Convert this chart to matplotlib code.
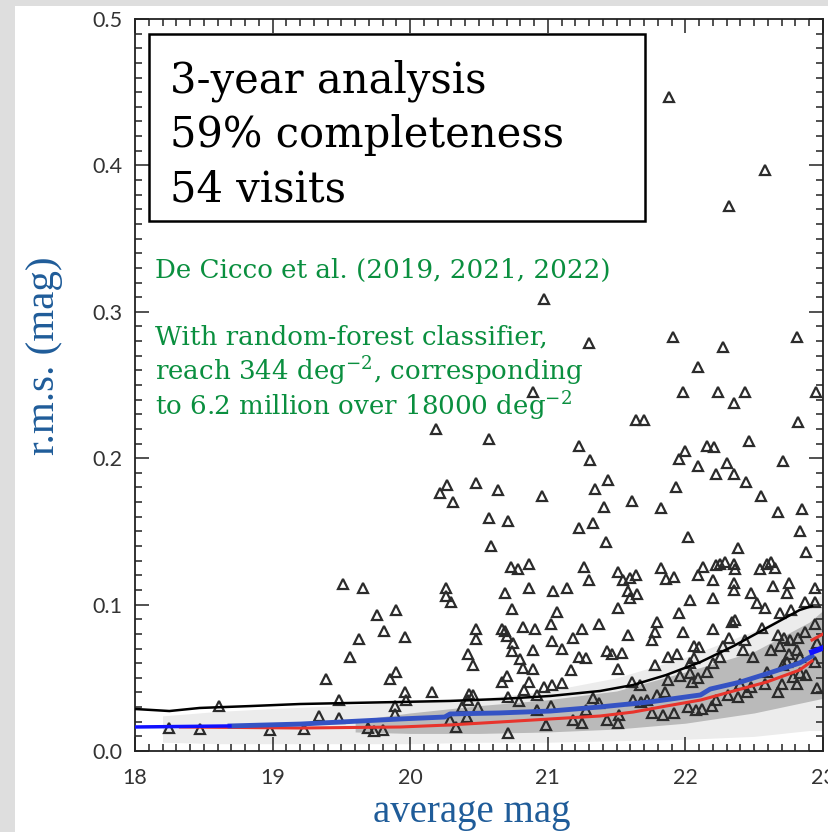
import matplotlib
matplotlib.use("Agg")
import matplotlib.pyplot as plt
from matplotlib.patches import Rectangle
from matplotlib.ticker import MultipleLocator, FormatStrFormatter

plt.rcParams["mathtext.fontset"] = "dejavuserif"

# Variable sources (open triangles): average mag and r.m.s.
tri_mag = [
    21.88, 22.58, 22.32, 20.97, 21.30, 21.91, 22.81, 22.27, 22.09, 21.98,
    22.24, 22.35, 22.43, 22.95, 21.64, 21.70, 22.82, 20.89, 20.19, 20.57,
    20.27, 20.22, 20.31, 20.48, 20.64, 20.96, 20.57, 20.71, 20.59, 20.73,
    20.78, 20.86, 20.86, 20.69, 20.74, 20.26, 20.26, 20.30, 19.51, 19.66,
    19.76, 19.90, 19.63, 19.81, 19.56, 19.39, 19.85, 19.90, 19.48, 19.34,
    19.48, 18.61, 18.25, 18.47, 18.98, 19.23, 19.69, 19.74, 19.80, 19.89,
    19.89, 19.96, 21.07, 21.37, 20.48, 20.48, 20.67, 20.69, 20.82, 20.91,
    21.02, 21.18, 21.25, 20.70, 20.75, 20.74, 20.89, 21.03, 21.10, 21.43,
    21.23, 21.28, 20.42, 20.46, 20.80, 20.82, 20.89, 21.17, 20.70, 20.67,
    20.86, 20.83, 20.97, 21.03, 21.10, 19.96, 20.16, 19.97, 20.43, 20.46,
    20.42, 20.71, 20.79, 20.92, 20.38, 20.49, 20.41, 20.29, 20.33, 20.71,
    20.99, 21.02, 20.92, 21.18, 21.25, 21.33, 21.37, 21.28, 21.43,
    21.26, 21.30, 21.51, 21.55, 21.60, 21.64, 21.82, 21.86, 21.92, 22.13,
    22.09, 22.22, 22.25, 22.29, 22.35, 22.36, 22.20, 22.54, 22.59, 22.62,
    22.65, 22.35, 22.35, 22.88, 22.75, 22.64, 22.87, 22.94, 22.94, 21.04,
    21.14, 21.58, 21.60, 21.65, 21.51, 22.03, 21.95, 22.20, 22.48, 22.52,
    22.58, 22.74, 22.69, 22.77, 21.58, 21.79, 21.78, 21.76, 21.98, 22.20,
    22.34, 22.36, 22.32, 22.56, 22.67, 22.76, 22.82, 22.87, 22.06, 22.10,
    22.27, 21.47, 21.54, 21.51, 21.87, 21.94, 22.06, 22.03, 22.20, 22.25,
    22.43, 22.42, 22.49, 22.62, 22.69, 22.72, 22.81, 22.83, 21.78, 21.67,
    21.62, 21.68, 21.72, 21.79, 21.85, 21.76, 21.84, 21.92, 22.03, 22.05,
    22.09, 22.08, 22.12, 22.19, 22.22, 22.31, 22.38, 22.45, 22.40, 22.48,
    22.58, 22.67, 22.70, 22.78, 22.83, 22.88, 22.81, 22.75, 22.71, 21.51,
    21.52, 22.16, 21.87, 21.96, 21.61, 22.02, 22.74, 22.59, 22.96, 22.94,
    22.96, 22.94,
    21.23, 21.31, 21.44, 21.34, 21.41, 21.61, 21.23, 21.33, 21.42, 21.82,
    21.93, 21.95, 22.00, 22.09, 22.16, 22.21, 22.46, 22.30, 22.35, 22.22,
    22.44, 22.55, 22.67, 22.71, 22.85, 22.83, 22.02, 22.38,
]
tri_rms = [
    0.447, 0.397, 0.372, 0.309, 0.279, 0.283, 0.283, 0.276, 0.262, 0.245,
    0.245, 0.238, 0.245, 0.245, 0.226, 0.226, 0.225, 0.245, 0.220, 0.213,
    0.182, 0.176, 0.170, 0.183, 0.178, 0.174, 0.159, 0.157, 0.140, 0.126,
    0.124, 0.128, 0.111, 0.108, 0.097, 0.111, 0.106, 0.102, 0.114, 0.111,
    0.093, 0.096, 0.0765, 0.082, 0.064, 0.049, 0.049, 0.054, 0.035, 0.024,
    0.0225, 0.031, 0.0157, 0.015, 0.0143, 0.015, 0.0157, 0.0137, 0.0143, 0.031,
    0.025, 0.078, 0.095, 0.087, 0.083, 0.0765, 0.083, 0.082, 0.085, 0.083,
    0.087, 0.077, 0.083, 0.0785, 0.074, 0.068, 0.069, 0.075, 0.070, 0.068,
    0.064, 0.0635, 0.066, 0.059, 0.063, 0.057, 0.056, 0.055, 0.051, 0.047,
    0.047, 0.042, 0.044, 0.045, 0.0465, 0.040, 0.040, 0.035, 0.039, 0.038,
    0.035, 0.037, 0.034, 0.038, 0.030, 0.030, 0.023, 0.021, 0.0164, 0.0123,
    0.018, 0.031, 0.028, 0.021, 0.019, 0.036, 0.033, 0.028, 0.021,
    0.126, 0.117, 0.122, 0.117, 0.118, 0.120, 0.125, 0.1175, 0.119, 0.126,
    0.120, 0.127, 0.128, 0.129, 0.128, 0.124, 0.117, 0.124, 0.128, 0.129,
    0.125, 0.115, 0.110, 0.136, 0.115, 0.113, 0.102, 0.111, 0.102, 0.109,
    0.111, 0.109, 0.1045, 0.107, 0.098, 0.103, 0.094, 0.1045, 0.108, 0.101,
    0.098, 0.108, 0.094, 0.096, 0.079, 0.088, 0.081, 0.076, 0.081, 0.083,
    0.088, 0.0895, 0.077, 0.084, 0.079, 0.076, 0.077, 0.081, 0.072, 0.071,
    0.072, 0.066, 0.067, 0.056, 0.064, 0.066, 0.0635, 0.060, 0.060, 0.064,
    0.076, 0.069, 0.064, 0.069, 0.072, 0.077, 0.069, 0.064, 0.059, 0.045,
    0.035, 0.0335, 0.035, 0.038, 0.040, 0.026, 0.0246, 0.026, 0.053, 0.047,
    0.050, 0.028, 0.029, 0.031, 0.035, 0.038, 0.037, 0.040, 0.046, 0.044,
    0.046, 0.040, 0.046, 0.0505, 0.053, 0.052, 0.046, 0.066, 0.059, 0.019,
    0.0246, 0.054, 0.0485, 0.051, 0.047, 0.030, 0.061, 0.054, 0.043, 0.061,
    0.074, 0.087,
    0.208, 0.199, 0.185, 0.179, 0.167, 0.171, 0.152, 0.156, 0.143, 0.166,
    0.180, 0.1995, 0.205, 0.195, 0.208, 0.2077, 0.212, 0.197, 0.189, 0.189,
    0.184, 0.174, 0.163, 0.198, 0.165, 0.150, 0.146, 0.139,
]

# Envelope of the bulk of non-variable sources (grey cloud)
cloud_mag = [18.2, 18.6, 19.0, 19.5, 20.0, 20.5, 21.0, 21.5, 22.0, 22.5, 22.9, 23.0]
cloud_lo = [0.006, 0.005, 0.005, 0.005, 0.005, 0.006, 0.006, 0.007, 0.008, 0.010, 0.014, 0.014]
cloud_hi = [0.024, 0.027, 0.029, 0.031, 0.034, 0.036, 0.041, 0.050, 0.064, 0.082, 0.100, 0.108]
core_mag = [19.6, 20.0, 20.5, 21.0, 21.5, 22.0, 22.5, 22.9, 23.0]
core_lo = [0.013, 0.012, 0.012, 0.013, 0.015, 0.019, 0.026, 0.034, 0.036]
core_hi = [0.021, 0.026, 0.031, 0.035, 0.041, 0.054, 0.068, 0.088, 0.096]

# Running r.m.s. curves
black_mag = [18.00, 18.25, 18.47, 18.84, 19.20, 19.56, 19.93, 20.29, 20.65,
             21.02, 21.38, 21.62, 21.86, 22.11, 22.35, 22.59, 22.83, 22.92]
black_rms = [0.0287, 0.0273, 0.0294, 0.0307, 0.0321, 0.0328, 0.0335, 0.0342,
             0.0355, 0.0376, 0.0410, 0.0451, 0.0519, 0.0608, 0.0717, 0.0840,
             0.0963, 0.0990]
blue_mag = [18.69, 19.20, 19.64, 19.93, 20.25, 20.29, 20.65, 21.02, 21.38,
            21.74, 22.11, 22.18, 22.40, 22.61, 22.83, 22.92]
blue_rms = [0.0171, 0.0184, 0.0205, 0.0219, 0.0232, 0.0253, 0.0260, 0.0273,
            0.0301, 0.0335, 0.0383, 0.0423, 0.0471, 0.0533, 0.0601, 0.0649]
blue_start_mag = [18.00, 18.69]
blue_start_rms = [0.0164, 0.0171]
blue_end_mag = [22.92, 23.00]
blue_end_rms = [0.0676, 0.0704]
red_mag = [18.33, 19.20, 19.93, 20.29, 20.65, 21.02, 21.38, 21.62, 21.86,
           22.11, 22.35, 22.59, 22.83, 22.92]
red_rms = [0.0164, 0.0157, 0.0164, 0.0178, 0.0198, 0.0219, 0.0239, 0.0266,
           0.0307, 0.0348, 0.0410, 0.0471, 0.0553, 0.0615]
red_end_mag = [22.92, 23.00]
red_end_rms = [0.0758, 0.0799]

box_lines = ["3-year analysis", "59% completeness", "54 visits"]
note_lines = [
    "De Cicco et al. (2019, 2021, 2022)",
    "With random-forest classifier,",
    "reach 344 deg$^{-2}$, corresponding",
    "to 6.2 million over 18000 deg$^{-2}$",
]

W, H = 829, 832
fig = plt.figure(figsize=(W / 100, H / 100), dpi=100)
fig.patch.set_facecolor("#dedede")
fig.add_artist(Rectangle((15 / W, 0), 1, 1 - 6 / H, transform=fig.transFigure,
                         facecolor="white", edgecolor="none", zorder=0))

ax = fig.add_axes([135 / W, 1 - 751 / H, 688 / W, 732 / H])
ax.set_xlim(18, 23)
ax.set_ylim(0, 0.5)

# grey cloud of constant sources
ax.fill_between(cloud_mag, cloud_lo, cloud_hi, color="#ececec", lw=0, zorder=1)
ax.fill_between(core_mag, core_lo, core_hi, color="#bababa", lw=0, zorder=1)

ax.plot(tri_mag, tri_rms, ls="none", marker="^", ms=7, mfc="none",
        mec="#2b2b2b", mew=1.6, zorder=2)

ax.plot(black_mag, black_rms, color="black", lw=1.8, zorder=3)
ax.plot(red_mag, red_rms, color="#e8342c", lw=2.2, zorder=4)
ax.plot(red_end_mag, red_end_rms, color="#e8342c", lw=2.2, zorder=4)
ax.plot(blue_mag, blue_rms, color="#3553c4", lw=3.5, zorder=5)
ax.plot(blue_start_mag, blue_start_rms, color="#1010ff", lw=2.5, zorder=5)
ax.plot(blue_end_mag, blue_end_rms, color="#1010ff", lw=4, zorder=5)

# IDL-style axes: inward ticks on all four sides
ax.xaxis.set_major_locator(MultipleLocator(1))
ax.xaxis.set_minor_locator(MultipleLocator(0.1))
ax.yaxis.set_major_locator(MultipleLocator(0.1))
ax.yaxis.set_minor_locator(MultipleLocator(0.01))
ax.yaxis.set_major_formatter(FormatStrFormatter("%.1f"))
ax.tick_params(which="both", direction="in", top=True, right=True,
               color="#222222", width=1.1)
ax.tick_params(which="major", length=10)
ax.tick_params(which="minor", length=5)
ax.tick_params(axis="x", which="major", pad=12)
ax.tick_params(axis="y", which="major", pad=9)
for lab in ax.get_xticklabels() + ax.get_yticklabels():
    lab.set_family("Lato")
    lab.set_fontweight("normal")
    lab.set_fontsize(15.5)
    lab.set_color("#333333")
for sp in ax.spines.values():
    sp.set_linewidth(1.3)
    sp.set_color("#222222")

fig.text(472 / W, 1 - 822 / H, "average mag", family="Liberation Serif",
         fontsize=28, color="#1f5c99", ha="center", va="baseline")
fig.text(45 / W, 1 - 356 / H, "r.m.s. (mag)", family="Liberation Serif",
         fontsize=29.5, color="#1f5c99", ha="center", va="center", rotation=90)

# summary box
ax.add_patch(Rectangle((14 / 688, (751 - 221) / 732), 496 / 688, 187 / 732,
                       transform=ax.transAxes, facecolor="white",
                       edgecolor="black", lw=1.8, zorder=6))
for i, txt in enumerate(box_lines):
    ax.text(35 / 688, (751 - 93 - 54 * i) / 732, txt, transform=ax.transAxes,
            family="DejaVu Serif", fontsize=30, color="black",
            va="baseline", zorder=7)

note_base = [278, 345, 380, 415]
for txt, yb in zip(note_lines, note_base):
    ax.text(20 / 688, (751 - yb) / 732, txt, transform=ax.transAxes,
            family="DejaVu Serif", fontsize=18.8, color="#0a8f3f",
            va="baseline", zorder=7)

fig.savefig("out.png", dpi=100, facecolor=fig.get_facecolor())
